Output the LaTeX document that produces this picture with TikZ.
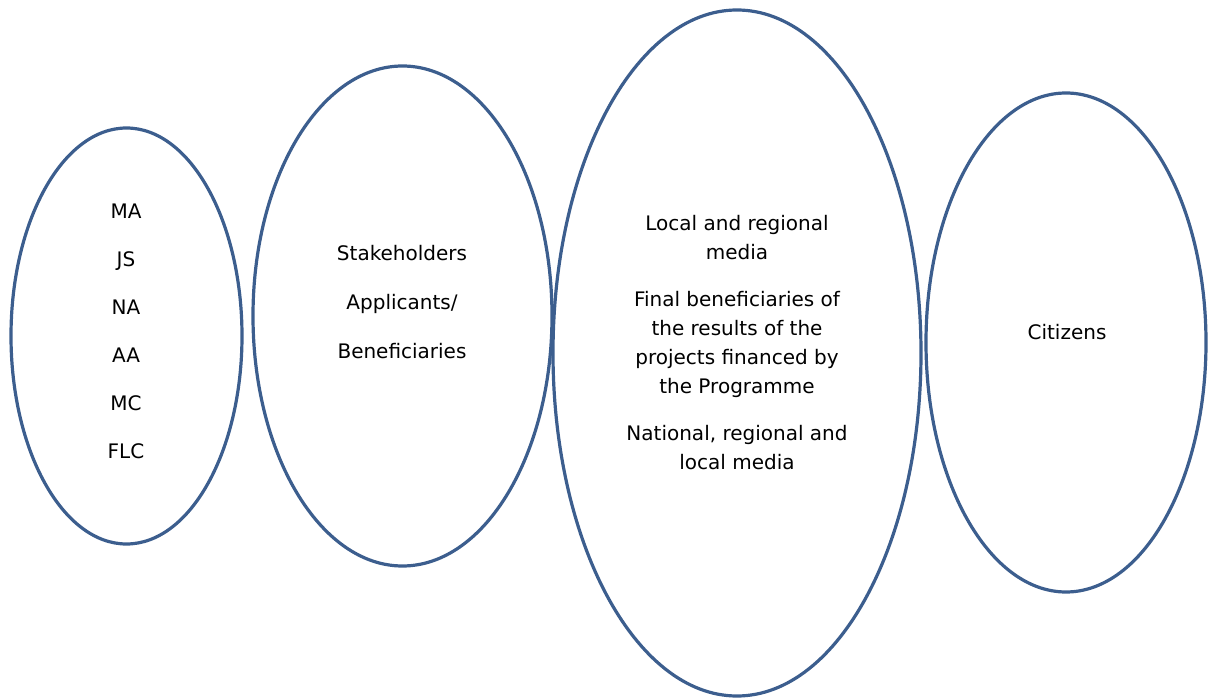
\documentclass[tikz,border=0pt]{standalone}
\usepackage{fontspec}
\setmainfont{DejaVu Sans}
\usetikzlibrary{shapes.geometric}
\definecolor{ringblue}{RGB}{60,94,142}

\begin{document}
\begin{tikzpicture}[x=1pt,y=-1pt,
  ring/.style={draw=ringblue,line width=3.2pt,ellipse,inner sep=0pt},
  words/.style={align=center,font=\fontsize{20}{29}\selectfont}]
  \useasboundingbox (0,0) rectangle (1208,700);
  \node [ring,minimum width=231,minimum height=416] (bodies) at (126.5,336) {};
  \node [ring,minimum width=299,minimum height=500] (applicants) at (402.5,316) {};
  \node [ring,minimum width=368,minimum height=686] (media) at (737,353) {};
  \node [ring,minimum width=280,minimum height=499] (citizens) at (1066,342.5) {};
  \node [words] (bodies-t) at (126,331) {MA\\[19pt]JS\\[19pt]NA\\[19pt]AA\\[19pt]MC\\[19pt]FLC};
  \node [words] (applicants-t) at (402,302.5) {Stakeholders\\[20pt]Applicants/\\[20pt]Beneficiaries};
  \node [words] (media-t) at (737,343) {Local and regional\\media\\[18pt]Final beneficiaries of\\the results of the\\projects financed by\\the Programme\\[18pt]National, regional and\\local media};
  \node [words] (citizens-t) at (1067,332) {Citizens};
\end{tikzpicture}
\end{document}
